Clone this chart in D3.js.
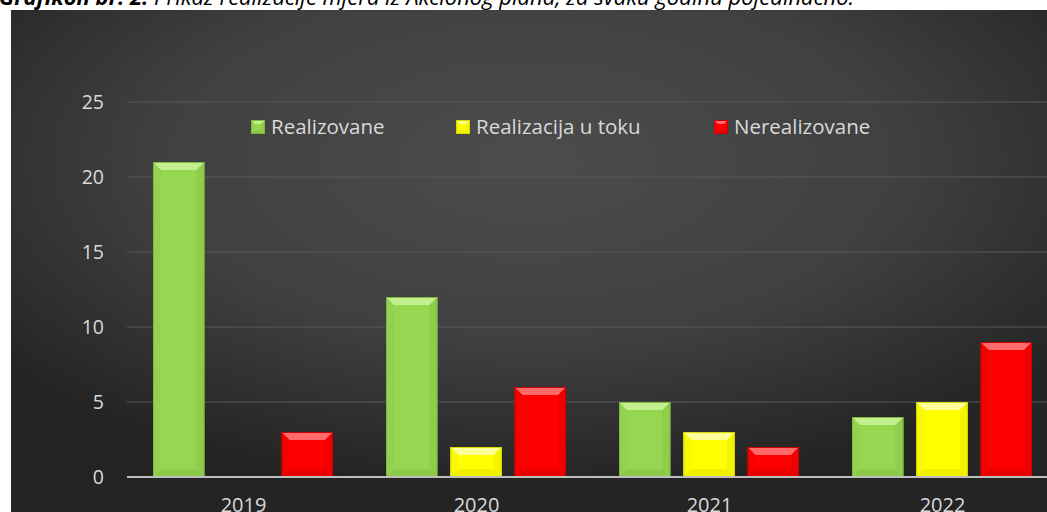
<!DOCTYPE html>
<html>
<head>
<meta charset="utf-8">
<script src="https://cdn.jsdelivr.net/npm/d3@7"></script>
<style>
  body { margin: 0; background: #fff; }
  svg { display: block; }
</style>
</head>
<body>
<div id="plot"></div>
<script>
// data
const years = ["2019", "2020", "2021", "2022"];
const seriesNames = ["Realizovane", "Realizacija u toku", "Nerealizovane"];
const realizovane = [21, 12, 5, 4];
const uToku = [0, 2, 3, 5];
const nerealizovane = [3, 6, 2, 9];
const yTicks = [0, 5, 10, 15, 20, 25];

const colors = ["#96d752", "#ffff00", "#ff0000"];
const lights = ["#c4ef8e", "#ffff9a", "#ff6a6a"];
const darks = ["#7db83f", "#d9d900", "#cc0000"];

const W = 1047, H = 512;

const svg = d3.select("#plot").append("svg")
  .attr("width", W).attr("height", H);

const defs = svg.append("defs");
const bg = defs.append("radialGradient").attr("id", "bg")
  .attr("cx", "50%").attr("cy", "30%").attr("r", "65%");
bg.append("stop").attr("offset", "0%").attr("stop-color", "#4c4c4c");
bg.append("stop").attr("offset", "55%").attr("stop-color", "#404040");
bg.append("stop").attr("offset", "100%").attr("stop-color", "#242424");

// title (cut off at top in the reference)
const title = svg.append("text")
  .attr("x", -1).attr("y", 5)
  .attr("font-family", "Open Sans, sans-serif")
  .attr("font-size", 22).attr("font-style", "italic")
  .attr("fill", "#000");
title.append("tspan").attr("font-weight", "bold").text("Grafikon br. 2: ");
title.append("tspan").text("Prikaz realizacije mjera iz Akcionog plana, za svaku godinu pojedinačno.");

svg.append("rect")
  .attr("x", 11).attr("y", 10).attr("width", W - 11).attr("height", H - 10)
  .attr("fill", "url(#bg)");

// scales
const x0 = d3.scaleBand().domain(years).range([127, 1059]).padding(0);
const x1 = d3.scaleBand().domain(seriesNames).range([26, 206]).paddingInner(0.2).paddingOuter(0);
const y = d3.scaleLinear().domain([0, 25]).range([477, 102]);

// grid
svg.append("g").selectAll("line")
  .data(yTicks.filter(d => d > 0))
  .join("line")
  .attr("x1", 127).attr("x2", W)
  .attr("y1", d => y(d)).attr("y2", d => y(d))
  .attr("stroke", "#595959").attr("stroke-width", 1.2);

// y axis labels
svg.append("g").selectAll("text")
  .data(yTicks)
  .join("text")
  .attr("x", 104).attr("y", d => y(d) + 7)
  .attr("text-anchor", "end")
  .attr("font-family", "Open Sans, sans-serif")
  .attr("font-size", 19.5).attr("fill", "#d9d9d9")
  .text(d => d);

// bevelled box
function bevel(g, x, yTop, w, h, i, bmax) {
  const b = Math.min(bmax, h / 2, w / 2);
  const x2 = x + w, y2 = yTop + h;
  g.append("rect").attr("x", x).attr("y", yTop).attr("width", w).attr("height", h)
    .attr("fill", colors[i]);
  // top face
  g.append("polygon")
    .attr("points", [[x, yTop], [x2, yTop], [x2 - b, yTop + b], [x + b, yTop + b]].join(" "))
    .attr("fill", lights[i]);
  // bottom face
  g.append("polygon")
    .attr("points", [[x, y2], [x2, y2], [x2 - b, y2 - b], [x + b, y2 - b]].join(" "))
    .attr("fill", darks[i]).attr("opacity", 0.4);
  // sides
  g.append("polygon")
    .attr("points", [[x2, yTop], [x2, y2], [x2 - b, y2 - b], [x2 - b, yTop + b]].join(" "))
    .attr("fill", darks[i]).attr("opacity", 0.3);
  g.append("polygon")
    .attr("points", [[x, yTop], [x, y2], [x + b, y2 - b], [x + b, yTop + b]].join(" "))
    .attr("fill", darks[i]).attr("opacity", 0.15);
  g.append("rect").attr("x", x + 0.5).attr("y", yTop + 0.5).attr("width", w - 1).attr("height", h - 1)
    .attr("fill", "none").attr("stroke", darks[i]).attr("stroke-width", 1);
}

const table = years.map((yr, k) => ({
  year: yr,
  vals: [realizovane[k], uToku[k], nerealizovane[k]]
}));

const bars = svg.append("g");
table.forEach(row => {
  row.vals.forEach((v, i) => {
    if (v <= 0) return;
    const bx = x0(row.year) + x1(seriesNames[i]);
    bevel(bars, bx, y(v), x1.bandwidth(), y(0) - y(v), i, 8);
  });
});

// zero line
svg.append("line")
  .attr("x1", 127).attr("x2", W)
  .attr("y1", y(0)).attr("y2", y(0))
  .attr("stroke", "#bdbdbd").attr("stroke-width", 2);

// x labels
svg.append("g").selectAll("text")
  .data(years)
  .join("text")
  .attr("x", d => x0(d) + x0.bandwidth() / 2)
  .attr("y", 512)
  .attr("text-anchor", "middle")
  .attr("font-family", "Open Sans, sans-serif")
  .attr("font-size", 20).attr("fill", "#d9d9d9")
  .text(d => d);

// legend
const legX = [251, 456, 714];
const leg = svg.append("g");
seriesNames.forEach((name, i) => {
  bevel(leg, legX[i], 120, 14, 14, i, 4);
  leg.append("text")
    .attr("x", legX[i] + 20).attr("y", 134)
    .attr("font-family", "Open Sans, sans-serif")
    .attr("font-size", 20.5).attr("fill", "#d9d9d9")
    .text(name);
});
</script>
</body>
</html>
